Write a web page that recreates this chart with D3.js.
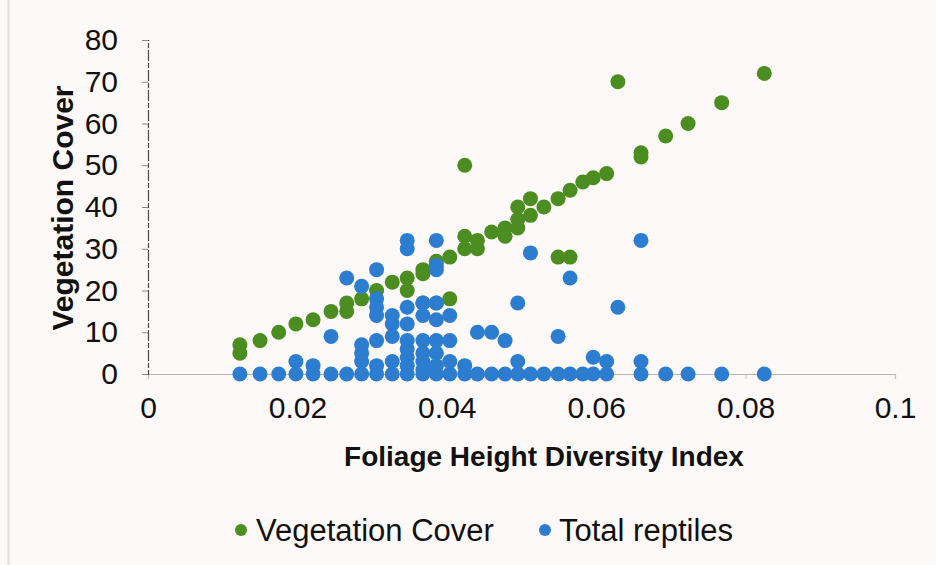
<!DOCTYPE html>
<html>
<head>
<meta charset="utf-8">
<script src="https://cdn.jsdelivr.net/npm/d3@7"></script>
<style>
  html, body { margin: 0; padding: 0; background: #fdf9f8; }
  svg { display: block; font-family: "Liberation Sans", Arial, sans-serif; }
</style>
</head>
<body>
<svg id="chart" width="936" height="565"></svg>
<script>
// Foliage height diversity index (x) against vegetation cover and total reptiles (y)
const vegX = [0.0123, 0.0123, 0.0150, 0.0175, 0.0198, 0.0221, 0.0245, 0.0266, 0.0266, 0.0286,
              0.0306, 0.0327, 0.0347, 0.0347, 0.0368, 0.0368, 0.0368, 0.0386, 0.0386, 0.0404,
              0.0404, 0.0424, 0.0424, 0.0424, 0.0441, 0.0441, 0.0460, 0.0478, 0.0478, 0.0495,
              0.0495, 0.0495, 0.0512, 0.0512, 0.0530, 0.0549, 0.0549, 0.0565, 0.0565, 0.0582,
              0.0596, 0.0614, 0.0629, 0.0660, 0.0660, 0.0693, 0.0723, 0.0768, 0.0825];
const vegY = [7, 5, 8, 10, 12, 13, 15, 17, 15, 18,
              20, 22, 23, 20, 25, 24, 17, 27, 17, 28,
              18, 33, 30, 50, 32, 30, 34, 35, 33, 40,
              37, 35, 42, 38, 40, 42, 28, 44, 28, 46,
              47, 48, 70, 53, 52, 57, 60, 65, 72];

const reptX = [
  // sites with no reptiles recorded
  0.0123, 0.0150, 0.0175, 0.0198, 0.0221, 0.0245, 0.0266, 0.0286, 0.0306, 0.0327,
  0.0347, 0.0368, 0.0386, 0.0404, 0.0424, 0.0441, 0.0460, 0.0478, 0.0495, 0.0512,
  0.0530, 0.0549, 0.0565, 0.0582, 0.0596, 0.0614, 0.0660, 0.0693, 0.0723, 0.0768,
  0.0825,
  // sites with reptiles
  0.0198, 0.0221, 0.0245, 0.0266, 0.0286, 0.0286, 0.0286, 0.0286,
  0.0306, 0.0306, 0.0306, 0.0306, 0.0306, 0.0306,
  0.0327, 0.0327, 0.0327, 0.0327,
  0.0347, 0.0347, 0.0347, 0.0347, 0.0347, 0.0347, 0.0347, 0.0347,
  0.0368, 0.0368, 0.0368, 0.0368, 0.0368, 0.0368,
  0.0386, 0.0386, 0.0386, 0.0386, 0.0386, 0.0386, 0.0386, 0.0386,
  0.0404, 0.0404, 0.0404, 0.0424, 0.0441, 0.0460, 0.0478,
  0.0495, 0.0495, 0.0512, 0.0549, 0.0565, 0.0596, 0.0614, 0.0629, 0.0660, 0.0660];
const reptY = [
  0, 0, 0, 0, 0, 0, 0, 0, 0, 0,
  0, 0, 0, 0, 0, 0, 0, 0, 0, 0,
  0, 0, 0, 0, 0, 0, 0, 0, 0, 0,
  0,
  3, 2, 9, 23, 21, 7, 5, 3,
  25, 18, 16, 14, 8, 2,
  14, 12, 9, 3,
  32, 30, 16, 12, 8, 6, 4, 2,
  17, 14, 8, 5, 3, 1,
  32, 26, 25, 17, 13, 8, 5, 2,
  14, 8, 3, 2, 10, 10, 8,
  17, 3, 29, 9, 23, 4, 3, 16, 32, 3];

const xTicks = [0, 0.02, 0.04, 0.06, 0.08, 0.1];
const yTicks = [0, 10, 20, 30, 40, 50, 60, 70, 80];
const seriesNames = ["Vegetation Cover", "Total reptiles"];
const seriesColors = ["#4b8d21", "#2c7dd0"];

const svg = d3.select("#chart");
const W = 936, H = 565;
const plot = { left: 148, right: 895, top: 40, bottom: 374 };

const x = d3.scaleLinear().domain([0, 0.1]).range([plot.left, plot.right]);
const y = d3.scaleLinear().domain([0, 80]).range([plot.bottom, plot.top]);

svg.append("rect").attr("width", W).attr("height", H).attr("fill", "#fdf9f8");
// faint page edge on the left
svg.append("line").attr("x1", 8.5).attr("x2", 8.5).attr("y1", 0).attr("y2", H)
  .attr("stroke", "#e2dede").attr("stroke-width", 2);

// x axis
const xAxis = svg.append("g")
  .attr("transform", `translate(0,${plot.bottom})`)
  .call(d3.axisBottom(x).tickValues(xTicks).tickFormat(d3.format("~g"))
    .tickSize(5).tickPadding(18));
xAxis.select(".domain").attr("stroke", "#b8b4b4").attr("stroke-width", 1.2);
xAxis.selectAll(".tick line").attr("stroke", "#c8c4c4");
xAxis.selectAll(".tick text").attr("fill", "#111").attr("font-size", 30)
  .attr("font-family", "Liberation Sans, Arial, sans-serif");

// y axis
const yAxis = svg.append("g")
  .attr("transform", `translate(${plot.left},0)`)
  .call(d3.axisLeft(y).tickValues(yTicks).tickSize(6).tickPadding(24));
yAxis.select(".domain").attr("stroke", "#4a4747").attr("stroke-width", 1.2)
  .attr("stroke-dasharray", "11,2,5,2");
yAxis.selectAll(".tick line").attr("stroke", "#8a8686");
yAxis.selectAll(".tick text").attr("fill", "#111").attr("font-size", 30)
  .attr("font-family", "Liberation Sans, Arial, sans-serif");

// axis titles
svg.append("text")
  .attr("x", 544).attr("y", 456)
  .attr("text-anchor", "middle").attr("dominant-baseline", "central")
  .attr("font-size", 28).attr("font-weight", "bold").attr("fill", "#111")
  .text("Foliage Height Diversity Index");
svg.append("text")
  .attr("transform", "translate(62,208) rotate(-90)")
  .attr("text-anchor", "middle").attr("dominant-baseline", "central")
  .attr("font-size", 30).attr("font-weight", "bold").attr("fill", "#111")
  .text("Vegetation Cover");

// points: vegetation cover first, reptiles drawn over it
const vegData = vegX.map((v, i) => ({ x: v, y: vegY[i] }));
const reptData = reptX.map((v, i) => ({ x: v, y: reptY[i] }));

svg.append("g").selectAll("circle").data(vegData).join("circle")
  .attr("cx", d => x(d.x)).attr("cy", d => y(d.y)).attr("r", 7.5)
  .attr("fill", seriesColors[0]);
svg.append("g").selectAll("circle").data(reptData).join("circle")
  .attr("cx", d => x(d.x)).attr("cy", d => y(d.y)).attr("r", 7.5)
  .attr("fill", seriesColors[1]);

// legend
const legendItems = [
  { name: seriesNames[0], color: seriesColors[0], mx: 241, tx: 256 },
  { name: seriesNames[1], color: seriesColors[1], mx: 545, tx: 559 }
];
const lg = svg.append("g");
legendItems.forEach(it => {
  lg.append("circle").attr("cx", it.mx).attr("cy", 530).attr("r", 6).attr("fill", it.color);
  lg.append("text").attr("x", it.tx).attr("y", 530)
    .attr("dominant-baseline", "central").attr("font-size", 31).attr("fill", "#111")
    .text(it.name);
});
</script>
</body>
</html>
